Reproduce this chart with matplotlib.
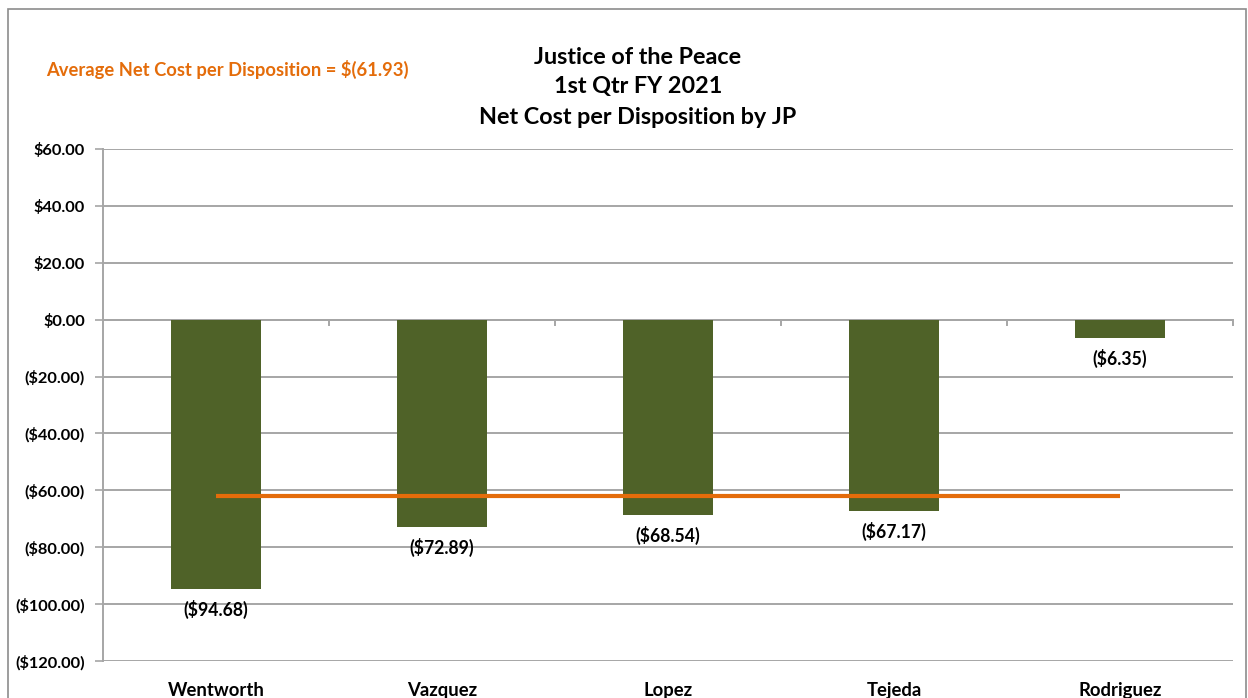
"""
Justice of the Peace - net cost per disposition, Excel-style column chart.
"""
import numpy as np
import matplotlib
matplotlib.use("Agg")
import matplotlib.pyplot as plt
from matplotlib.patches import Rectangle

judges = ["Wentworth", "Vazquez", "Lopez", "Tejeda", "Rodriguez"]
net_cost = [-94.68, -72.89, -68.54, -67.17, -6.35]
average_cost = -61.93
title_lines = ["Justice of the Peace", "1st Qtr FY 2021",
               "Net Cost per Disposition by JP"]
y_ticks = [60, 40, 20, 0, -20, -40, -60, -80, -100, -120]

BAR_COLOR = "#4F6228"
LINE_COLOR = "#E46C0A"
GRID_COLOR = "#A6A6A6"
FONT = ["Lato", "DejaVu Sans"]


def money(v):
    if v < 0:
        return "(${:,.2f})".format(-v)
    return "${:,.2f}".format(v)


plt.rcParams["font.family"] = FONT
plt.rcParams["font.weight"] = "bold"

fig = plt.figure(figsize=(12.48, 6.98), dpi=100)
fig.patches.append(Rectangle((8 / 1248, -0.01), 1238 / 1248, 1 - 9 / 698 + 0.01,
                             transform=fig.transFigure, fill=False,
                             edgecolor="#8C8C8C", linewidth=1.2))

ax = fig.add_axes([103 / 1248, 1 - 661 / 698, 1130 / 1248, 512 / 698])
x = np.arange(len(judges))

ax.bar(x, net_cost, width=0.4, color=BAR_COLOR, zorder=3)
ax.plot([x[0], x[-1]], [average_cost, average_cost], color=LINE_COLOR,
        linewidth=3, zorder=4, solid_capstyle="butt")

for xi, v in zip(x, net_cost):
    ax.annotate(money(v), (xi, v), xytext=(0, -8), textcoords="offset points",
                ha="center", va="top", fontsize=12.7, fontweight="bold",
                color="black", zorder=5)

ax.set_xlim(-0.5, len(judges) - 0.5)
ax.set_ylim(-120, 60)
ax.set_yticks(y_ticks)
ax.set_yticklabels([money(v) for v in y_ticks])
ax.yaxis.grid(True, color=GRID_COLOR, linewidth=1.4, zorder=0)
ax.tick_params(axis="y", length=6, width=1.2, color=GRID_COLOR, labelsize=11.8,
               pad=7)
for lab in ax.get_yticklabels():
    lab.set_fontweight("bold")

ax.set_xticks(x)
ax.set_xticklabels(judges)
ax.tick_params(axis="x", length=0, labelsize=13.3, pad=15)
for lab in ax.get_xticklabels():
    lab.set_fontweight("bold")

for side in ["top", "right", "bottom"]:
    ax.spines[side].set_visible(False)
ax.spines["left"].set_color(GRID_COLOR)
ax.spines["left"].set_linewidth(1.4)

# horizontal category axis sits at zero, with boundary tick marks
ax.axhline(0, color=GRID_COLOR, linewidth=1.4, zorder=2)
for b in x[:-1] + 0.5:
    ax.plot([b, b], [0, -2], color=GRID_COLOR, linewidth=1.4, zorder=2)
ax.plot([x[-1] + 0.5] * 2, [0, -2], color=GRID_COLOR, linewidth=1.4,
        zorder=2, clip_on=False)

for i, line in enumerate(title_lines):
    fig.text(638 / 1248, 1 - (57 + 30 * i) / 698, line, ha="center",
             va="center", fontsize=16.8, fontweight="bold", color="black")

fig.text(46 / 1248, 1 - 69 / 698,
         "Average Net Cost per Disposition = $({:.2f})".format(-average_cost),
         ha="left", va="center", fontsize=13.2, fontweight="bold",
         color=LINE_COLOR)

fig.savefig("out.png", dpi=100, facecolor="white")
